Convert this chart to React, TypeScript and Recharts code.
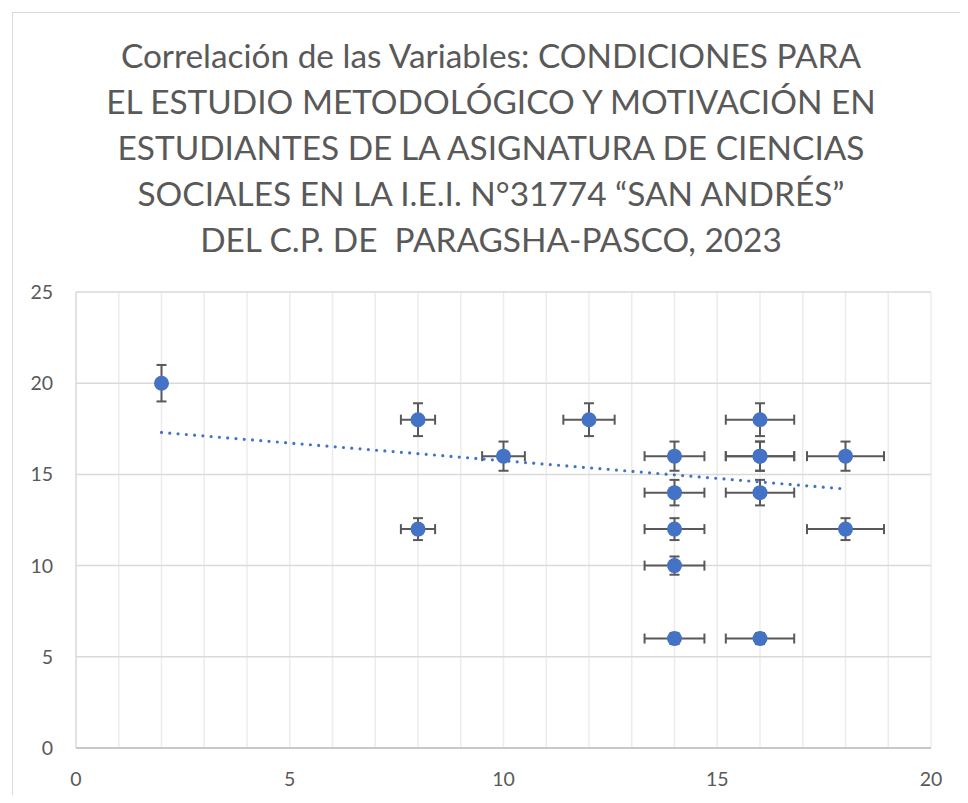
import React from "react"
import { ScatterChart, Scatter, XAxis, YAxis, CartesianGrid, ErrorBar } from "recharts"

// values
const xValues = [2, 8, 8, 10, 12, 14, 14, 14, 14, 14, 16, 16, 16, 16, 16, 18, 18]
const yValues = [20, 18, 12, 16, 18, 16, 14, 12, 10, 6, 18, 16, 16, 14, 6, 16, 12]
const xErrors = [0.1, 0.4, 0.4, 0.5, 0.6, 0.7, 0.7, 0.7, 0.7, 0.7, 0.8, 0.8, 0.8, 0.8, 0.8, 0.9, 0.9]
const yErrors = [1, 0.9, 0.6, 0.8, 0.9, 0.8, 0.7, 0.6, 0.5, 0.3, 0.9, 0.8, 0.8, 0.7, 0.3, 0.8, 0.6]

// linear trend line end points
const trendX = [2, 18]
const trendY = [17.3, 14.2]

const xTicks = [0, 5, 10, 15, 20]
const minorXTicks = [1, 2, 3, 4, 5, 6, 7, 8, 9, 10, 11, 12, 13, 14, 15, 16, 17, 18, 19, 20]
const yTicks = [0, 5, 10, 15, 20, 25]

const titleLines = [
  "Correlación de las Variables: CONDICIONES PARA",
  "EL ESTUDIO METODOLÓGICO Y MOTIVACIÓN EN",
  "ESTUDIANTES DE LA ASIGNATURA DE CIENCIAS",
  "SOCIALES EN LA I.E.I. N°31774 “SAN ANDRÉS”",
  "DEL C.P. DE  PARAGSHA-PASCO, 2023",
]

const points = xValues.map((x, i) => ({ x, y: yValues[i], ex: xErrors[i], ey: yErrors[i] }))
const trend = trendX.map((x, i) => ({ x, y: trendY[i] }))

const FONT = "Lato, 'Open Sans', sans-serif"
const TEXT = "#595959"

const Dot = (props: any) => {
  if (props.cx == null || props.cy == null) return null
  return <circle cx={props.cx} cy={props.cy} r={7.5} fill="#4472C4" />
}

// minor vertical gridlines every 1 unit
const minorVertical = ({ xAxis, offset }: any) => {
  if (xAxis && typeof xAxis.scale === "function") {
    return minorXTicks.map((v) => xAxis.scale(v))
  }
  return minorXTicks.map((v) => offset.left + (v / 20) * offset.width)
}

export default function App() {
  return (
    <div style={{ position: "relative", width: 968, height: 803, margin: -8, overflow: "hidden", background: "#fff" }}>
      <div
        style={{
          position: "absolute",
          left: 12,
          top: 12,
          width: 980,
          height: 820,
          border: "1px solid #d9d9d9",
          boxSizing: "border-box",
        }}
      />
      <div
        style={{
          position: "absolute",
          left: 12,
          top: 32,
          width: 958,
          textAlign: "center",
          fontFamily: FONT,
          fontSize: 33.4,
          lineHeight: "46px",
          color: TEXT,
          whiteSpace: "pre",
        }}
      >
        {titleLines.map((l, i) => (
          <div key={i}>{l}</div>
        ))}
      </div>
      <div style={{ position: "absolute", left: 0, top: 0 }}>
        <ScatterChart width={968} height={803} margin={{ top: 292, right: 37, bottom: 15, left: 0 }}>
          <CartesianGrid
            horizontal={false}
            verticalCoordinatesGenerator={minorVertical}
            stroke="#ececec"
            strokeWidth={1.5}
          />
          <CartesianGrid vertical={false} stroke="#d9d9d9" strokeWidth={1.5} />
          <XAxis
            type="number"
            dataKey="x"
            domain={[0, 20]}
            ticks={xTicks}
            height={40}
            tickLine={false}
            tickSize={0}
            tickMargin={24}
            axisLine={{ stroke: "#bfbfbf", strokeWidth: 1.5 }}
            tick={{ fill: TEXT, fontSize: 19.5, fontFamily: FONT }}
          />
          <YAxis
            type="number"
            dataKey="y"
            domain={[0, 25]}
            ticks={yTicks}
            width={76}
            tickLine={false}
            tickSize={0}
            tickMargin={23}
            axisLine={{ stroke: "#d9d9d9", strokeWidth: 1.5 }}
            tick={{ fill: TEXT, fontSize: 19.5, fontFamily: FONT }}
          />
          <Scatter
            data={trend}
            line={{ stroke: "#4472C4", strokeWidth: 3.2, strokeDasharray: "0 8.3", strokeLinecap: "round" }}
            lineType="joint"
            shape={() => null}
            isAnimationActive={false}
          />
          <Scatter data={points} shape={Dot} isAnimationActive={false}>
            <ErrorBar dataKey="ex" direction="x" width={5} stroke="#595959" strokeWidth={2} />
            <ErrorBar dataKey="ey" direction="y" width={5} stroke="#595959" strokeWidth={2} />
          </Scatter>
        </ScatterChart>
      </div>
    </div>
  )
}
